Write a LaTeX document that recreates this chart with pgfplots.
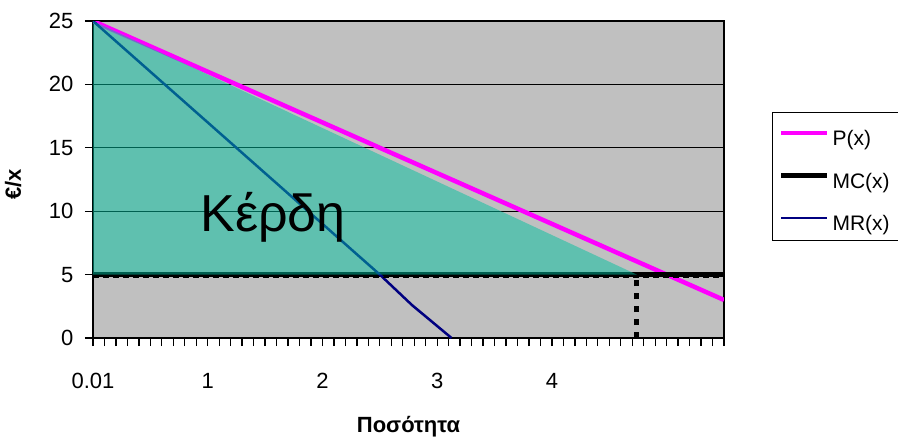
\documentclass[border=0pt]{standalone}
\usepackage{fontspec}
\setmainfont{Liberation Sans}
\usepackage{pgfplots}
\pgfplotsset{compat=1.18}
\definecolor{plotgray}{RGB}{192,192,192}
\definecolor{areagreen}{RGB}{0,192,160}
\definecolor{navyline}{RGB}{0,0,128}
\definecolor{magline}{RGB}{255,0,255}
\begin{document}
\begin{tikzpicture}
\begin{axis}[
  name=ax,
  at={(0,0)}, anchor=south west,
  scale only axis,
  width=631pt, height=317pt,
  xmin=0, xmax=5.5, ymin=0, ymax=25,
  axis background/.style={fill=plotgray},
  axis line style={line width=1.5pt, black},
  xtick={0,1,2,3,4},
  xticklabels={0.01,1,2,3,4},
  minor xtick={0.1,0.2,0.3,0.4,0.5,0.6,0.7,0.8,0.9,1.1,1.2,1.3,1.4,1.5,1.6,1.7,1.8,1.9,2.1,2.2,2.3,2.4,2.5,2.6,2.7,2.8,2.9,3.1,3.2,3.3,3.4,3.5,3.6,3.7,3.8,3.9,4.1,4.2,4.3,4.4,4.5,4.6,4.7,4.8,4.9,5.0,5.1,5.2,5.3,5.4,5.5},
  ytick={0,5,10,15,20,25},
  tick align=outside,
  major tick length=8pt, minor tick length=8pt,
  tick style={line width=1.3pt, black},
  ymajorgrids,
  major grid style={line width=1.2pt, black},
  xtick pos=bottom, ytick pos=left,
  /pgf/number format/assume math mode=true,
  ticklabel style={font=\fontsize{22}{26}\selectfont},
  xticklabel style={yshift=-24pt},
  yticklabel style={xshift=-8pt},
  xlabel={\textbf{Ποσότητα}},
  ylabel={\textbf{€/x}},
  xlabel style={font=\fontsize{22}{26}\selectfont, at={(axis description cs:0.5,0)}, anchor=base, yshift=-94pt},
  ylabel style={font=\fontsize{22}{26}\selectfont, at={(axis description cs:0,0.5)}, anchor=base, yshift=72pt, xshift=-5pt},
  legend style={at={(1.076,0.713)}, anchor=north west, draw=black, line width=1.2pt, fill=white,
    font=\fontsize{21}{25}\selectfont, inner xsep=6pt, inner ysep=2pt,
    nodes={inner sep=3pt, text height=28pt, text depth=5pt}, row sep=3.5pt},
  legend cell align=left,
  legend image code/.code={\draw[#1] (0pt,1pt) -- (46pt,1pt);},
]
\addplot[magline, line width=4.5pt] coordinates {
  (0,25) (0.5,23) (1,21) (1.5,19) (2,17) (2.5,15) (3,13) (3.5,11) (4,9) (4.5,7) (5,5) (5.5,3)};
\addlegendentry{P(x)}
\addplot[black, line width=5pt] coordinates {(0,5) (5.5,5)};
\addlegendentry{MC(x)}
\addplot[navyline, line width=2.5pt] coordinates {
  (0,25) (1,17) (2,9) (2.5,5) (2.78,2.6) (3.125,0)};
\addlegendentry{MR(x)}
\addplot[forget plot, black, line width=1.5pt, dash pattern=on 6pt off 4pt] coordinates {(0,4.78) (5.5,4.78)};
\addplot[forget plot, black, line width=5pt, dash pattern=on 6pt off 7pt] coordinates {(4.74,0) (4.74,4.8)};
\addplot[forget plot, draw=none, fill=areagreen, fill opacity=0.5] coordinates {(0,25) (4.74,5) (0,5) (0,25)};
\node[anchor=base, font=\fontsize{52}{60}\selectfont] at (axis cs:1.57,8.36) {Κέρδη};
\end{axis}
\pgfresetboundingbox
\path[use as bounding box] (ax.south west) ++(-93pt,-102pt) rectangle ++(898pt,440pt);
\end{tikzpicture}
\end{document}
